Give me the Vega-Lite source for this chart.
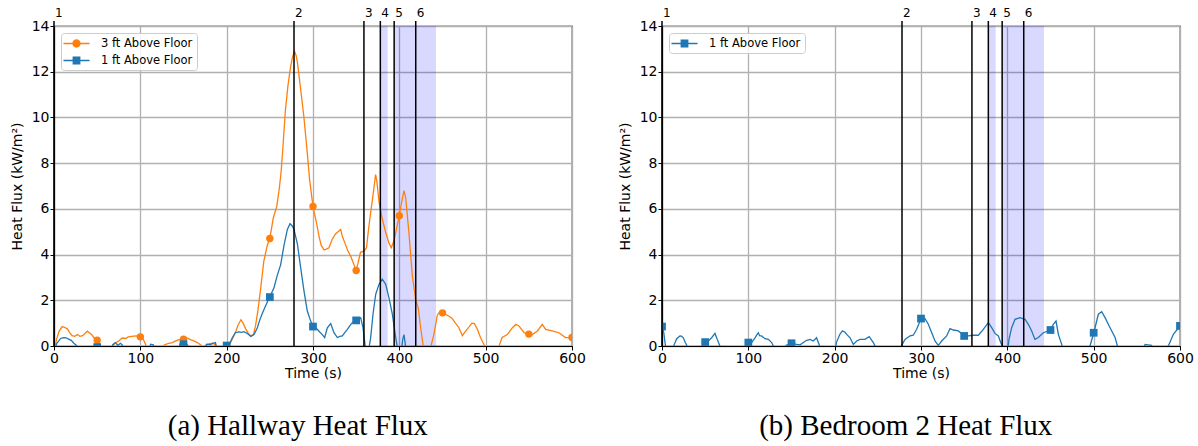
{
  "$schema": "https://vega.github.io/schema/vega-lite/v6.json",
  "background": "white",
  "padding": {"left": 9, "top": 6, "right": 5, "bottom": 5},
  "datasets": {
    "events": [
      {"t": 0, "label": "1"}, {"t": 278, "label": "2"}, {"t": 359, "label": "3"},
      {"t": 378, "label": "4"}, {"t": 394, "label": "5"}, {"t": 419, "label": "6"}
    ],
    "shade": [{"t0": 378, "t1": 386.5}, {"t0": 394, "t1": 442.5}],
    "hall": [
      {"t":0,"v":-0.3,"s":"3 ft Above Floor"},{"t":3,"v":0.3,"s":"3 ft Above Floor"},{"t":6,"v":0.65,"s":"3 ft Above Floor"},{"t":9.5,"v":0.85,"s":"3 ft Above Floor"},{"t":12,"v":0.82,"s":"3 ft Above Floor"},{"t":15.5,"v":0.75,"s":"3 ft Above Floor"},{"t":18,"v":0.6,"s":"3 ft Above Floor"},{"t":21,"v":0.45,"s":"3 ft Above Floor"},{"t":24,"v":0.42,"s":"3 ft Above Floor"},{"t":27,"v":0.5,"s":"3 ft Above Floor"},{"t":30,"v":0.42,"s":"3 ft Above Floor"},{"t":33,"v":0.45,"s":"3 ft Above Floor"},{"t":36,"v":0.55,"s":"3 ft Above Floor"},{"t":38.5,"v":0.65,"s":"3 ft Above Floor"},{"t":41,"v":0.58,"s":"3 ft Above Floor"},{"t":44,"v":0.48,"s":"3 ft Above Floor"},{"t":47,"v":0.33,"s":"3 ft Above Floor"},{"t":50,"v":0.25,"s":"3 ft Above Floor"},{"t":53,"v":0.08,"s":"3 ft Above Floor"},{"t":56,"v":-0.2,"s":"3 ft Above Floor"},{"t":66,"v":-0.2,"s":"3 ft Above Floor"},{"t":69,"v":0.05,"s":"3 ft Above Floor"},{"t":72,"v":0.15,"s":"3 ft Above Floor"},{"t":75,"v":0.22,"s":"3 ft Above Floor"},{"t":79,"v":0.35,"s":"3 ft Above Floor"},{"t":83,"v":0.33,"s":"3 ft Above Floor"},{"t":86,"v":0.4,"s":"3 ft Above Floor"},{"t":90,"v":0.42,"s":"3 ft Above Floor"},{"t":95,"v":0.44,"s":"3 ft Above Floor"},{"t":100,"v":0.4,"s":"3 ft Above Floor"},{"t":103,"v":0.33,"s":"3 ft Above Floor"},{"t":106,"v":0.08,"s":"3 ft Above Floor"},{"t":108,"v":-0.2,"s":"3 ft Above Floor"},{"t":125,"v":-0.2,"s":"3 ft Above Floor"},{"t":128,"v":0.05,"s":"3 ft Above Floor"},{"t":133,"v":0.12,"s":"3 ft Above Floor"},{"t":137,"v":0.15,"s":"3 ft Above Floor"},{"t":141,"v":0.22,"s":"3 ft Above Floor"},{"t":145,"v":0.28,"s":"3 ft Above Floor"},{"t":150,"v":0.3,"s":"3 ft Above Floor"},{"t":154,"v":0.35,"s":"3 ft Above Floor"},{"t":158,"v":0.28,"s":"3 ft Above Floor"},{"t":162,"v":0.22,"s":"3 ft Above Floor"},{"t":166,"v":0.15,"s":"3 ft Above Floor"},{"t":170,"v":0.05,"s":"3 ft Above Floor"},{"t":172,"v":-0.1,"s":"3 ft Above Floor"},{"t":176,"v":0.05,"s":"3 ft Above Floor"},{"t":180,"v":0.1,"s":"3 ft Above Floor"},{"t":184,"v":0.12,"s":"3 ft Above Floor"},{"t":187,"v":0.05,"s":"3 ft Above Floor"},{"t":189,"v":-0.2,"s":"3 ft Above Floor"},{"t":200,"v":-0.2,"s":"3 ft Above Floor"},{"t":203,"v":0.05,"s":"3 ft Above Floor"},{"t":206.5,"v":0.3,"s":"3 ft Above Floor"},{"t":210,"v":0.58,"s":"3 ft Above Floor"},{"t":213,"v":0.9,"s":"3 ft Above Floor"},{"t":216.5,"v":1.15,"s":"3 ft Above Floor"},{"t":219,"v":1.0,"s":"3 ft Above Floor"},{"t":222,"v":0.75,"s":"3 ft Above Floor"},{"t":225,"v":0.55,"s":"3 ft Above Floor"},{"t":228,"v":0.44,"s":"3 ft Above Floor"},{"t":231,"v":0.5,"s":"3 ft Above Floor"},{"t":233.5,"v":0.9,"s":"3 ft Above Floor"},{"t":236,"v":1.5,"s":"3 ft Above Floor"},{"t":239,"v":2.4,"s":"3 ft Above Floor"},{"t":243,"v":3.7,"s":"3 ft Above Floor"},{"t":247,"v":4.4,"s":"3 ft Above Floor"},{"t":250,"v":4.7,"s":"3 ft Above Floor"},{"t":254,"v":5.6,"s":"3 ft Above Floor"},{"t":258,"v":6.1,"s":"3 ft Above Floor"},{"t":261,"v":6.9,"s":"3 ft Above Floor"},{"t":263,"v":7.6,"s":"3 ft Above Floor"},{"t":265,"v":8.6,"s":"3 ft Above Floor"},{"t":268,"v":10.3,"s":"3 ft Above Floor"},{"t":271,"v":11.4,"s":"3 ft Above Floor"},{"t":274,"v":12.2,"s":"3 ft Above Floor"},{"t":276,"v":12.6,"s":"3 ft Above Floor"},{"t":278.5,"v":12.9,"s":"3 ft Above Floor"},{"t":280.5,"v":12.7,"s":"3 ft Above Floor"},{"t":282,"v":12.4,"s":"3 ft Above Floor"},{"t":285.5,"v":11.3,"s":"3 ft Above Floor"},{"t":289.5,"v":10.0,"s":"3 ft Above Floor"},{"t":293.5,"v":8.4,"s":"3 ft Above Floor"},{"t":296,"v":7.3,"s":"3 ft Above Floor"},{"t":300,"v":6.1,"s":"3 ft Above Floor"},{"t":304,"v":5.4,"s":"3 ft Above Floor"},{"t":307,"v":4.8,"s":"3 ft Above Floor"},{"t":309.5,"v":4.4,"s":"3 ft Above Floor"},{"t":313,"v":4.2,"s":"3 ft Above Floor"},{"t":316,"v":4.25,"s":"3 ft Above Floor"},{"t":318.5,"v":4.3,"s":"3 ft Above Floor"},{"t":322,"v":4.65,"s":"3 ft Above Floor"},{"t":326,"v":4.9,"s":"3 ft Above Floor"},{"t":329,"v":5.0,"s":"3 ft Above Floor"},{"t":332,"v":5.1,"s":"3 ft Above Floor"},{"t":334,"v":4.8,"s":"3 ft Above Floor"},{"t":337,"v":4.5,"s":"3 ft Above Floor"},{"t":340,"v":4.2,"s":"3 ft Above Floor"},{"t":344,"v":3.9,"s":"3 ft Above Floor"},{"t":347.5,"v":3.55,"s":"3 ft Above Floor"},{"t":350,"v":3.3,"s":"3 ft Above Floor"},{"t":352,"v":3.6,"s":"3 ft Above Floor"},{"t":355,"v":4.1,"s":"3 ft Above Floor"},{"t":359,"v":4.15,"s":"3 ft Above Floor"},{"t":362,"v":4.3,"s":"3 ft Above Floor"},{"t":364,"v":5.0,"s":"3 ft Above Floor"},{"t":366,"v":5.6,"s":"3 ft Above Floor"},{"t":369.5,"v":6.6,"s":"3 ft Above Floor"},{"t":372.5,"v":7.5,"s":"3 ft Above Floor"},{"t":374,"v":7.2,"s":"3 ft Above Floor"},{"t":376.5,"v":6.3,"s":"3 ft Above Floor"},{"t":380,"v":5.6,"s":"3 ft Above Floor"},{"t":384,"v":5.0,"s":"3 ft Above Floor"},{"t":388,"v":4.5,"s":"3 ft Above Floor"},{"t":390.7,"v":4.3,"s":"3 ft Above Floor"},{"t":393.8,"v":4.6,"s":"3 ft Above Floor"},{"t":397.7,"v":5.3,"s":"3 ft Above Floor"},{"t":400,"v":5.7,"s":"3 ft Above Floor"},{"t":402.7,"v":6.3,"s":"3 ft Above Floor"},{"t":405.4,"v":6.8,"s":"3 ft Above Floor"},{"t":407.3,"v":6.5,"s":"3 ft Above Floor"},{"t":411,"v":5.0,"s":"3 ft Above Floor"},{"t":415,"v":3.1,"s":"3 ft Above Floor"},{"t":419,"v":2.0,"s":"3 ft Above Floor"},{"t":422,"v":1.65,"s":"3 ft Above Floor"},{"t":424.7,"v":0.8,"s":"3 ft Above Floor"},{"t":427.4,"v":0.07,"s":"3 ft Above Floor"},{"t":429,"v":-0.3,"s":"3 ft Above Floor"},{"t":435,"v":-0.3,"s":"3 ft Above Floor"},{"t":437,"v":0.05,"s":"3 ft Above Floor"},{"t":440,"v":0.5,"s":"3 ft Above Floor"},{"t":444,"v":1.35,"s":"3 ft Above Floor"},{"t":447,"v":1.5,"s":"3 ft Above Floor"},{"t":450,"v":1.45,"s":"3 ft Above Floor"},{"t":454,"v":1.38,"s":"3 ft Above Floor"},{"t":457.5,"v":1.3,"s":"3 ft Above Floor"},{"t":461,"v":1.22,"s":"3 ft Above Floor"},{"t":465,"v":1.0,"s":"3 ft Above Floor"},{"t":469,"v":0.8,"s":"3 ft Above Floor"},{"t":473,"v":0.45,"s":"3 ft Above Floor"},{"t":477,"v":0.66,"s":"3 ft Above Floor"},{"t":481,"v":0.85,"s":"3 ft Above Floor"},{"t":484,"v":1.0,"s":"3 ft Above Floor"},{"t":487,"v":0.98,"s":"3 ft Above Floor"},{"t":490.5,"v":0.72,"s":"3 ft Above Floor"},{"t":494,"v":0.37,"s":"3 ft Above Floor"},{"t":498,"v":0.07,"s":"3 ft Above Floor"},{"t":500,"v":-0.3,"s":"3 ft Above Floor"},{"t":514,"v":-0.3,"s":"3 ft Above Floor"},{"t":516,"v":0.05,"s":"3 ft Above Floor"},{"t":519,"v":0.37,"s":"3 ft Above Floor"},{"t":525,"v":0.5,"s":"3 ft Above Floor"},{"t":531,"v":0.8,"s":"3 ft Above Floor"},{"t":535,"v":0.95,"s":"3 ft Above Floor"},{"t":538.5,"v":0.88,"s":"3 ft Above Floor"},{"t":544.5,"v":0.58,"s":"3 ft Above Floor"},{"t":550,"v":0.52,"s":"3 ft Above Floor"},{"t":554,"v":0.5,"s":"3 ft Above Floor"},{"t":560,"v":0.66,"s":"3 ft Above Floor"},{"t":565.5,"v":0.95,"s":"3 ft Above Floor"},{"t":569.5,"v":0.73,"s":"3 ft Above Floor"},{"t":577,"v":0.66,"s":"3 ft Above Floor"},{"t":585,"v":0.58,"s":"3 ft Above Floor"},{"t":592.5,"v":0.37,"s":"3 ft Above Floor"},{"t":600,"v":0.37,"s":"3 ft Above Floor"},
      {"t":0,"v":-0.3,"s":"1 ft Above Floor"},{"t":3,"v":0.1,"s":"1 ft Above Floor"},{"t":7.7,"v":0.33,"s":"1 ft Above Floor"},{"t":11,"v":0.37,"s":"1 ft Above Floor"},{"t":14,"v":0.36,"s":"1 ft Above Floor"},{"t":17,"v":0.3,"s":"1 ft Above Floor"},{"t":20,"v":0.25,"s":"1 ft Above Floor"},{"t":23,"v":0.12,"s":"1 ft Above Floor"},{"t":26,"v":0.03,"s":"1 ft Above Floor"},{"t":28,"v":-0.2,"s":"1 ft Above Floor"},{"t":48,"v":-0.2,"s":"1 ft Above Floor"},{"t":50,"v":-0.05,"s":"1 ft Above Floor"},{"t":52,"v":-0.2,"s":"1 ft Above Floor"},{"t":66,"v":-0.2,"s":"1 ft Above Floor"},{"t":68,"v":0.06,"s":"1 ft Above Floor"},{"t":71,"v":0.15,"s":"1 ft Above Floor"},{"t":74,"v":0.03,"s":"1 ft Above Floor"},{"t":77,"v":0.12,"s":"1 ft Above Floor"},{"t":79,"v":0.05,"s":"1 ft Above Floor"},{"t":81,"v":-0.2,"s":"1 ft Above Floor"},{"t":100,"v":-0.3,"s":"1 ft Above Floor"},{"t":110,"v":-0.2,"s":"1 ft Above Floor"},{"t":112,"v":0.08,"s":"1 ft Above Floor"},{"t":115,"v":0.05,"s":"1 ft Above Floor"},{"t":117,"v":-0.2,"s":"1 ft Above Floor"},{"t":144,"v":-0.2,"s":"1 ft Above Floor"},{"t":146,"v":0.1,"s":"1 ft Above Floor"},{"t":148.6,"v":0.2,"s":"1 ft Above Floor"},{"t":150,"v":0.08,"s":"1 ft Above Floor"},{"t":152.5,"v":0.12,"s":"1 ft Above Floor"},{"t":155,"v":0.03,"s":"1 ft Above Floor"},{"t":157,"v":-0.2,"s":"1 ft Above Floor"},{"t":175,"v":-0.2,"s":"1 ft Above Floor"},{"t":177,"v":0.08,"s":"1 ft Above Floor"},{"t":181,"v":0.05,"s":"1 ft Above Floor"},{"t":184,"v":0.12,"s":"1 ft Above Floor"},{"t":187,"v":0.15,"s":"1 ft Above Floor"},{"t":189,"v":-0.2,"s":"1 ft Above Floor"},{"t":198,"v":-0.2,"s":"1 ft Above Floor"},{"t":200,"v":0.02,"s":"1 ft Above Floor"},{"t":203,"v":0.07,"s":"1 ft Above Floor"},{"t":206.5,"v":0.36,"s":"1 ft Above Floor"},{"t":210,"v":0.58,"s":"1 ft Above Floor"},{"t":214,"v":0.62,"s":"1 ft Above Floor"},{"t":217,"v":0.6,"s":"1 ft Above Floor"},{"t":220,"v":0.63,"s":"1 ft Above Floor"},{"t":224,"v":0.55,"s":"1 ft Above Floor"},{"t":228,"v":0.42,"s":"1 ft Above Floor"},{"t":231.7,"v":0.5,"s":"1 ft Above Floor"},{"t":235.5,"v":0.8,"s":"1 ft Above Floor"},{"t":238,"v":1.1,"s":"1 ft Above Floor"},{"t":241,"v":1.4,"s":"1 ft Above Floor"},{"t":245,"v":1.75,"s":"1 ft Above Floor"},{"t":248,"v":2.0,"s":"1 ft Above Floor"},{"t":250,"v":2.14,"s":"1 ft Above Floor"},{"t":254.8,"v":2.55,"s":"1 ft Above Floor"},{"t":258.7,"v":3.1,"s":"1 ft Above Floor"},{"t":262.5,"v":3.55,"s":"1 ft Above Floor"},{"t":266.4,"v":4.4,"s":"1 ft Above Floor"},{"t":270.3,"v":5.1,"s":"1 ft Above Floor"},{"t":273.4,"v":5.35,"s":"1 ft Above Floor"},{"t":276,"v":5.25,"s":"1 ft Above Floor"},{"t":278,"v":5.1,"s":"1 ft Above Floor"},{"t":282,"v":4.45,"s":"1 ft Above Floor"},{"t":285.7,"v":3.43,"s":"1 ft Above Floor"},{"t":289.6,"v":2.4,"s":"1 ft Above Floor"},{"t":293.4,"v":1.53,"s":"1 ft Above Floor"},{"t":297.3,"v":1.09,"s":"1 ft Above Floor"},{"t":300,"v":0.85,"s":"1 ft Above Floor"},{"t":305,"v":0.73,"s":"1 ft Above Floor"},{"t":308,"v":0.6,"s":"1 ft Above Floor"},{"t":310.8,"v":0.5,"s":"1 ft Above Floor"},{"t":313.5,"v":0.37,"s":"1 ft Above Floor"},{"t":316.6,"v":0.8,"s":"1 ft Above Floor"},{"t":320.5,"v":0.98,"s":"1 ft Above Floor"},{"t":324.3,"v":0.58,"s":"1 ft Above Floor"},{"t":328.2,"v":0.37,"s":"1 ft Above Floor"},{"t":331,"v":0.42,"s":"1 ft Above Floor"},{"t":334,"v":0.44,"s":"1 ft Above Floor"},{"t":337,"v":0.6,"s":"1 ft Above Floor"},{"t":339.8,"v":0.73,"s":"1 ft Above Floor"},{"t":343,"v":0.9,"s":"1 ft Above Floor"},{"t":345.6,"v":1.02,"s":"1 ft Above Floor"},{"t":350,"v":1.12,"s":"1 ft Above Floor"},{"t":355.2,"v":1.24,"s":"1 ft Above Floor"},{"t":357.9,"v":0.8,"s":"1 ft Above Floor"},{"t":360.2,"v":0.07,"s":"1 ft Above Floor"},{"t":361.5,"v":-0.3,"s":"1 ft Above Floor"},{"t":364,"v":-0.3,"s":"1 ft Above Floor"},{"t":366.8,"v":0.37,"s":"1 ft Above Floor"},{"t":369.5,"v":1.39,"s":"1 ft Above Floor"},{"t":372.6,"v":2.26,"s":"1 ft Above Floor"},{"t":376.5,"v":2.7,"s":"1 ft Above Floor"},{"t":380.3,"v":2.92,"s":"1 ft Above Floor"},{"t":384.2,"v":2.7,"s":"1 ft Above Floor"},{"t":388,"v":2.11,"s":"1 ft Above Floor"},{"t":391.9,"v":1.39,"s":"1 ft Above Floor"},{"t":395.8,"v":0.37,"s":"1 ft Above Floor"},{"t":397.7,"v":-0.05,"s":"1 ft Above Floor"},{"t":400,"v":-0.3,"s":"1 ft Above Floor"},{"t":402,"v":-0.3,"s":"1 ft Above Floor"},{"t":404,"v":0.3,"s":"1 ft Above Floor"},{"t":405.4,"v":0.5,"s":"1 ft Above Floor"},{"t":407,"v":0.05,"s":"1 ft Above Floor"},{"t":408,"v":-0.3,"s":"1 ft Above Floor"},{"t":450,"v":-0.5,"s":"1 ft Above Floor"},{"t":500,"v":-0.5,"s":"1 ft Above Floor"},{"t":550,"v":-0.5,"s":"1 ft Above Floor"},{"t":600,"v":-0.5,"s":"1 ft Above Floor"}
    ],
    "bed": [
      {"t":0,"v":0.85,"s":"1 ft Above Floor"},{"t":2,"v":0.6,"s":"1 ft Above Floor"},{"t":3.5,"v":0.15,"s":"1 ft Above Floor"},{"t":5,"v":-0.2,"s":"1 ft Above Floor"},{"t":12,"v":-0.2,"s":"1 ft Above Floor"},{"t":14,"v":0.05,"s":"1 ft Above Floor"},{"t":17,"v":0.32,"s":"1 ft Above Floor"},{"t":20.8,"v":0.44,"s":"1 ft Above Floor"},{"t":22.5,"v":0.43,"s":"1 ft Above Floor"},{"t":24.7,"v":0.36,"s":"1 ft Above Floor"},{"t":27,"v":0.15,"s":"1 ft Above Floor"},{"t":28.6,"v":0.03,"s":"1 ft Above Floor"},{"t":30,"v":-0.2,"s":"1 ft Above Floor"},{"t":48,"v":-0.2,"s":"1 ft Above Floor"},{"t":50,"v":0.17,"s":"1 ft Above Floor"},{"t":53.7,"v":0.22,"s":"1 ft Above Floor"},{"t":57.5,"v":0.36,"s":"1 ft Above Floor"},{"t":61.4,"v":0.55,"s":"1 ft Above Floor"},{"t":64,"v":0.29,"s":"1 ft Above Floor"},{"t":67,"v":0.0,"s":"1 ft Above Floor"},{"t":68,"v":-0.2,"s":"1 ft Above Floor"},{"t":98,"v":-0.2,"s":"1 ft Above Floor"},{"t":100,"v":0.15,"s":"1 ft Above Floor"},{"t":103.9,"v":0.15,"s":"1 ft Above Floor"},{"t":107.7,"v":0.36,"s":"1 ft Above Floor"},{"t":110,"v":0.5,"s":"1 ft Above Floor"},{"t":111.6,"v":0.58,"s":"1 ft Above Floor"},{"t":113,"v":0.45,"s":"1 ft Above Floor"},{"t":115.4,"v":0.44,"s":"1 ft Above Floor"},{"t":119.3,"v":0.32,"s":"1 ft Above Floor"},{"t":123.2,"v":0.29,"s":"1 ft Above Floor"},{"t":127,"v":0.15,"s":"1 ft Above Floor"},{"t":129,"v":0.0,"s":"1 ft Above Floor"},{"t":131,"v":-0.2,"s":"1 ft Above Floor"},{"t":142,"v":-0.2,"s":"1 ft Above Floor"},{"t":144,"v":0.03,"s":"1 ft Above Floor"},{"t":150,"v":0.12,"s":"1 ft Above Floor"},{"t":156,"v":0.07,"s":"1 ft Above Floor"},{"t":160,"v":0.05,"s":"1 ft Above Floor"},{"t":163.7,"v":0.15,"s":"1 ft Above Floor"},{"t":167.6,"v":0.25,"s":"1 ft Above Floor"},{"t":171.4,"v":0.29,"s":"1 ft Above Floor"},{"t":175.3,"v":0.22,"s":"1 ft Above Floor"},{"t":179,"v":0.36,"s":"1 ft Above Floor"},{"t":182,"v":0.07,"s":"1 ft Above Floor"},{"t":183,"v":-0.2,"s":"1 ft Above Floor"},{"t":200,"v":-0.3,"s":"1 ft Above Floor"},{"t":201,"v":-0.1,"s":"1 ft Above Floor"},{"t":202,"v":0.15,"s":"1 ft Above Floor"},{"t":206,"v":0.51,"s":"1 ft Above Floor"},{"t":209,"v":0.66,"s":"1 ft Above Floor"},{"t":212,"v":0.6,"s":"1 ft Above Floor"},{"t":213.9,"v":0.51,"s":"1 ft Above Floor"},{"t":217.8,"v":0.36,"s":"1 ft Above Floor"},{"t":221.6,"v":0.07,"s":"1 ft Above Floor"},{"t":225.5,"v":0.22,"s":"1 ft Above Floor"},{"t":229.3,"v":0.29,"s":"1 ft Above Floor"},{"t":235,"v":0.29,"s":"1 ft Above Floor"},{"t":240,"v":0.41,"s":"1 ft Above Floor"},{"t":244.8,"v":0.15,"s":"1 ft Above Floor"},{"t":246.7,"v":0.0,"s":"1 ft Above Floor"},{"t":248,"v":-0.3,"s":"1 ft Above Floor"},{"t":250,"v":-0.3,"s":"1 ft Above Floor"},{"t":276,"v":-0.3,"s":"1 ft Above Floor"},{"t":277.6,"v":0.03,"s":"1 ft Above Floor"},{"t":281.5,"v":0.29,"s":"1 ft Above Floor"},{"t":285,"v":0.38,"s":"1 ft Above Floor"},{"t":287.3,"v":0.44,"s":"1 ft Above Floor"},{"t":291,"v":0.47,"s":"1 ft Above Floor"},{"t":295,"v":0.73,"s":"1 ft Above Floor"},{"t":300,"v":1.2,"s":"1 ft Above Floor"},{"t":304.6,"v":1.2,"s":"1 ft Above Floor"},{"t":308.5,"v":0.95,"s":"1 ft Above Floor"},{"t":312.4,"v":0.58,"s":"1 ft Above Floor"},{"t":316.2,"v":0.22,"s":"1 ft Above Floor"},{"t":320,"v":0.03,"s":"1 ft Above Floor"},{"t":324,"v":0.22,"s":"1 ft Above Floor"},{"t":329.7,"v":0.44,"s":"1 ft Above Floor"},{"t":333.6,"v":0.76,"s":"1 ft Above Floor"},{"t":337.5,"v":0.7,"s":"1 ft Above Floor"},{"t":343.2,"v":0.66,"s":"1 ft Above Floor"},{"t":347,"v":0.55,"s":"1 ft Above Floor"},{"t":350,"v":0.44,"s":"1 ft Above Floor"},{"t":354.8,"v":0.44,"s":"1 ft Above Floor"},{"t":360.6,"v":0.47,"s":"1 ft Above Floor"},{"t":366.4,"v":0.47,"s":"1 ft Above Floor"},{"t":372.2,"v":0.73,"s":"1 ft Above Floor"},{"t":378,"v":1.02,"s":"1 ft Above Floor"},{"t":381.9,"v":0.8,"s":"1 ft Above Floor"},{"t":385.7,"v":0.55,"s":"1 ft Above Floor"},{"t":389.6,"v":0.44,"s":"1 ft Above Floor"},{"t":392.3,"v":0.15,"s":"1 ft Above Floor"},{"t":394.2,"v":0.0,"s":"1 ft Above Floor"},{"t":396,"v":-0.2,"s":"1 ft Above Floor"},{"t":400,"v":-0.3,"s":"1 ft Above Floor"},{"t":402,"v":0.3,"s":"1 ft Above Floor"},{"t":405,"v":0.8,"s":"1 ft Above Floor"},{"t":408.9,"v":1.17,"s":"1 ft Above Floor"},{"t":414.7,"v":1.24,"s":"1 ft Above Floor"},{"t":420.5,"v":1.17,"s":"1 ft Above Floor"},{"t":424.3,"v":0.95,"s":"1 ft Above Floor"},{"t":428.2,"v":0.66,"s":"1 ft Above Floor"},{"t":432,"v":0.29,"s":"1 ft Above Floor"},{"t":435.9,"v":0.37,"s":"1 ft Above Floor"},{"t":441.7,"v":0.58,"s":"1 ft Above Floor"},{"t":450,"v":0.7,"s":"1 ft Above Floor"},{"t":453.3,"v":0.95,"s":"1 ft Above Floor"},{"t":456.4,"v":1.09,"s":"1 ft Above Floor"},{"t":459.1,"v":0.51,"s":"1 ft Above Floor"},{"t":463,"v":0.07,"s":"1 ft Above Floor"},{"t":464,"v":-0.3,"s":"1 ft Above Floor"},{"t":494,"v":-0.3,"s":"1 ft Above Floor"},{"t":495.8,"v":0.0,"s":"1 ft Above Floor"},{"t":500,"v":0.58,"s":"1 ft Above Floor"},{"t":501.6,"v":0.8,"s":"1 ft Above Floor"},{"t":505.4,"v":1.39,"s":"1 ft Above Floor"},{"t":509.3,"v":1.5,"s":"1 ft Above Floor"},{"t":513.2,"v":1.24,"s":"1 ft Above Floor"},{"t":519,"v":0.8,"s":"1 ft Above Floor"},{"t":524.8,"v":0.37,"s":"1 ft Above Floor"},{"t":527.5,"v":0.0,"s":"1 ft Above Floor"},{"t":529,"v":-0.3,"s":"1 ft Above Floor"},{"t":550,"v":-0.3,"s":"1 ft Above Floor"},{"t":557,"v":-0.3,"s":"1 ft Above Floor"},{"t":559.5,"v":0.07,"s":"1 ft Above Floor"},{"t":563,"v":0.05,"s":"1 ft Above Floor"},{"t":567,"v":0.03,"s":"1 ft Above Floor"},{"t":570,"v":-0.3,"s":"1 ft Above Floor"},{"t":586.5,"v":0.0,"s":"1 ft Above Floor"},{"t":592.3,"v":0.51,"s":"1 ft Above Floor"},{"t":600,"v":0.88,"s":"1 ft Above Floor"}
    ]
  },
  "hconcat": [
    {
      "width": 518,
      "height": 320,
      "title": {"text": "(a) Hallway Heat Flux"},
      "layer": [
        {
          "data": {"name": "shade"},
          "mark": {"type": "rect", "color": "#0000ff", "opacity": 0.15},
          "encoding": {
            "x": {"field": "t0", "type": "quantitative", "scale": {"domain": [0, 600], "nice": false}, "axis": {"values": [0,100,200,300,400,500,600], "title": "Time (s)", "labelFlush": false, "titlePadding": 1, "grid": true}},
            "x2": {"field": "t1"},
            "y": {"datum": 0, "type": "quantitative", "scale": {"domain": [0, 14], "nice": false}, "axis": {"values": [0,2,4,6,8,10,12,14], "title": "Heat Flux (kW/m²)", "labelFlush": false, "titlePadding": 7, "grid": true}},
            "y2": {"datum": 14}
          }
        },
        {
          "data": {"name": "hall"},
          "transform": [{"filter": "datum.s == '3 ft Above Floor'"}],
          "mark": {"type": "line", "strokeWidth": 1.3, "clip": true, "color": "#ff7f0e"},
          "encoding": {
            "x": {"field": "t", "type": "quantitative"},
            "y": {"field": "v", "type": "quantitative"}
          }
        },
        {
          "data": {"name": "hall"},
          "transform": [{"filter": "datum.s == '1 ft Above Floor'"}],
          "mark": {"type": "line", "strokeWidth": 1.3, "clip": true, "color": "#1f77b4"},
          "encoding": {
            "x": {"field": "t", "type": "quantitative"},
            "y": {"field": "v", "type": "quantitative"}
          }
        },
        {
          "data": {"name": "hall"},
          "transform": [{"filter": "datum.t % 50 == 0 && datum.s == '3 ft Above Floor'"}],
          "mark": {"type": "point", "shape": "circle", "filled": true, "opacity": 1, "size": 55, "color": "#ff7f0e", "clip": true},
          "encoding": {
            "x": {"field": "t", "type": "quantitative"},
            "y": {"field": "v", "type": "quantitative"}
          }
        },
        {
          "data": {"name": "hall"},
          "transform": [{"filter": "datum.t % 50 == 0 && datum.s == '1 ft Above Floor'"}],
          "mark": {"type": "point", "shape": "square", "filled": true, "opacity": 1, "size": 60, "color": "#1f77b4", "clip": true},
          "encoding": {
            "x": {"field": "t", "type": "quantitative"},
            "y": {"field": "v", "type": "quantitative"}
          }
        },
        {
          "data": {"name": "events"},
          "mark": {"type": "rule", "color": "black", "strokeWidth": 1.5},
          "encoding": {
            "x": {"field": "t", "type": "quantitative"},
            "y": {"datum": 0},
            "y2": {"datum": 14.22}
          }
        },
        {
          "data": {"name": "events"},
          "mark": {"type": "text", "align": "left", "baseline": "alphabetic", "dx": 1, "dy": -9, "fontSize": 12, "font": "DejaVu Sans", "color": "black"},
          "encoding": {
            "x": {"field": "t", "type": "quantitative"},
            "y": {"datum": 14},
            "text": {"field": "label"}
          }
        },
        {
          "data": {"name": "hall"},
          "transform": [{"filter": "datum.v < -0.25"}],
          "mark": {"type": "point", "filled": true, "size": 4, "clip": true},
          "encoding": {
            "x": {"field": "t", "type": "quantitative"},
            "y": {"field": "v", "type": "quantitative"},
            "color": {"field": "s", "type": "nominal", "scale": {"domain": ["3 ft Above Floor", "1 ft Above Floor"], "range": ["#ff7f0e", "#1f77b4"]}, "legend": {"title": null}},
            "shape": {"field": "s", "type": "nominal", "scale": {"domain": ["3 ft Above Floor", "1 ft Above Floor"], "range": ["M-2,-0.1L2,-0.1L2,0.1L-2,0.1ZM0.64,0A0.64,0.64,0,1,1,-0.64,0A0.64,0.64,0,1,1,0.64,0Z", "M-2,-0.1L2,-0.1L2,0.1L-2,0.1ZM-0.6,-0.6L0.6,-0.6L0.6,0.6L-0.6,0.6Z"]}, "legend": {"title": null}}
          }
        }
      ]
    },
    {
      "width": 518,
      "height": 320,
      "title": {"text": "(b) Bedroom 2 Heat Flux"},
      "layer": [
        {
          "data": {"name": "shade"},
          "mark": {"type": "rect", "color": "#0000ff", "opacity": 0.15},
          "encoding": {
            "x": {"field": "t0", "type": "quantitative", "scale": {"domain": [0, 600], "nice": false}, "axis": {"values": [0,100,200,300,400,500,600], "title": "Time (s)", "labelFlush": false, "titlePadding": 1, "grid": true}},
            "x2": {"field": "t1"},
            "y": {"datum": 0, "type": "quantitative", "scale": {"domain": [0, 14], "nice": false}, "axis": {"values": [0,2,4,6,8,10,12,14], "title": "Heat Flux (kW/m²)", "labelFlush": false, "titlePadding": 7, "grid": true}},
            "y2": {"datum": 14}
          }
        },
        {
          "data": {"name": "bed"},
          "mark": {"type": "line", "strokeWidth": 1.3, "clip": true, "color": "#1f77b4"},
          "encoding": {
            "x": {"field": "t", "type": "quantitative"},
            "y": {"field": "v", "type": "quantitative"}
          }
        },
        {
          "data": {"name": "bed"},
          "transform": [{"filter": "datum.t % 50 == 0"}],
          "mark": {"type": "point", "shape": "square", "filled": true, "opacity": 1, "size": 60, "color": "#1f77b4", "clip": true},
          "encoding": {
            "x": {"field": "t", "type": "quantitative"},
            "y": {"field": "v", "type": "quantitative"}
          }
        },
        {
          "data": {"name": "events"},
          "mark": {"type": "rule", "color": "black", "strokeWidth": 1.5},
          "encoding": {
            "x": {"field": "t", "type": "quantitative"},
            "y": {"datum": 0},
            "y2": {"datum": 14.22}
          }
        },
        {
          "data": {"name": "events"},
          "mark": {"type": "text", "align": "left", "baseline": "alphabetic", "dx": 1, "dy": -9, "fontSize": 12, "font": "DejaVu Sans", "color": "black"},
          "encoding": {
            "x": {"field": "t", "type": "quantitative"},
            "y": {"datum": 14},
            "text": {"field": "label"}
          }
        },
        {
          "data": {"name": "bed"},
          "transform": [{"filter": "datum.v < -0.25"}],
          "mark": {"type": "point", "filled": true, "size": 4, "clip": true},
          "encoding": {
            "x": {"field": "t", "type": "quantitative"},
            "y": {"field": "v", "type": "quantitative"},
            "color": {"field": "s", "type": "nominal", "scale": {"domain": ["1 ft Above Floor"], "range": ["#1f77b4"]}, "legend": {"title": null}},
            "shape": {"field": "s", "type": "nominal", "scale": {"domain": ["1 ft Above Floor"], "range": ["M-2,-0.1L2,-0.1L2,0.1L-2,0.1ZM-0.6,-0.6L0.6,-0.6L0.6,0.6L-0.6,0.6Z"]}, "legend": {"title": null}}
          }
        }
      ]
    }
  ],
  "spacing": 31,
  "resolve": {"scale": {"color": "independent", "shape": "independent", "x": "independent", "y": "independent"}, "legend": {"color": "independent", "shape": "independent"}},
  "config": {
    "font": "DejaVu Sans",
    "view": {"stroke": "black", "strokeWidth": 1.2},
    "axis": {"domainColor": "black", "domainWidth": 1.2, "tickColor": "black", "labelColor": "black", "titleColor": "black", "gridColor": "#b0b0b0", "gridWidth": 1.3, "labelFont": "DejaVu Sans", "titleFont": "DejaVu Sans", "labelFontSize": 14, "titleFontSize": 14, "titleFontWeight": "normal", "tickSize": 4, "labelPadding": 1},
    "legend": {"orient": "top-left", "offset": 7, "padding": 4, "fillColor": "rgba(255,255,255,0.85)", "strokeColor": "#cccccc", "cornerRadius": 3, "labelFont": "DejaVu Sans", "labelFontSize": 11.5, "labelColor": "black", "symbolSize": 169, "symbolOffset": 5, "labelOffset": 18, "rowPadding": 5, "symbolStrokeWidth": 0, "symbolOpacity": 1},
    "title": {"font": "Liberation Serif", "fontSize": 29, "fontWeight": "normal", "color": "black", "orient": "bottom", "anchor": "middle", "frame": "bounds", "offset": 32}
  }
}
